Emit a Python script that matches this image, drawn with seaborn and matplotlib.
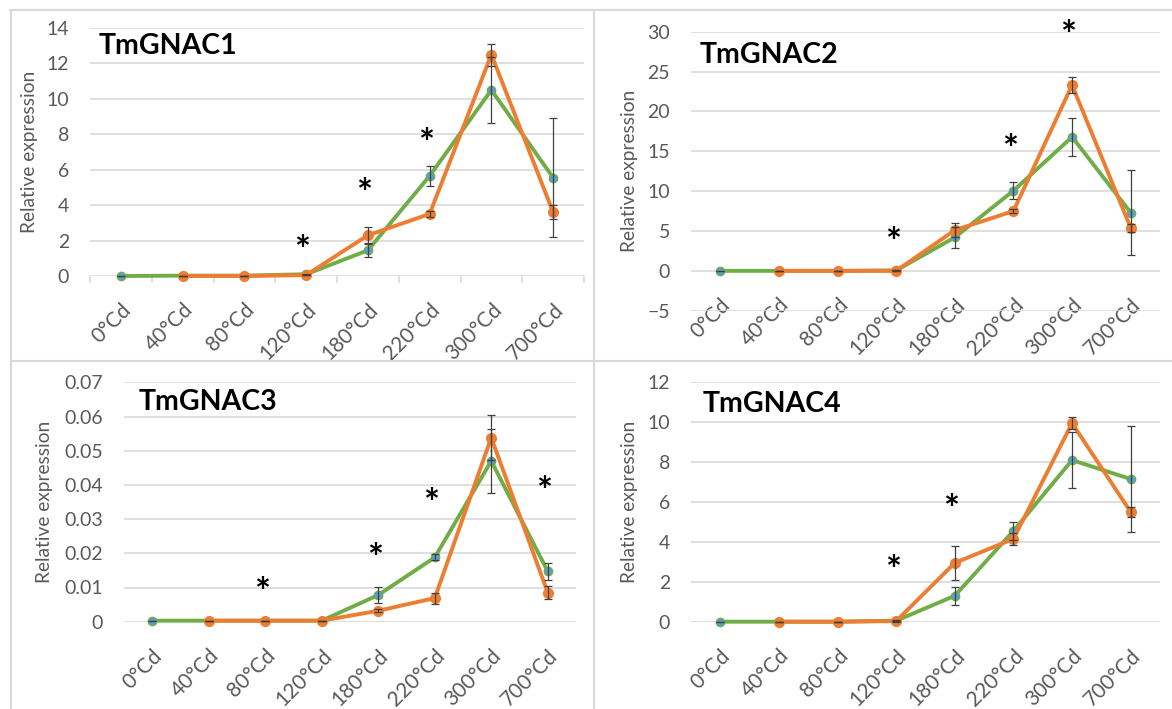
# Relative expression of TmGNAC1-4 across thermal time (4 panels)
import numpy as np
import pandas as pd
import matplotlib
matplotlib.use("Agg")
import matplotlib.pyplot as plt
import seaborn as sns
from matplotlib.ticker import MultipleLocator, FuncFormatter
from matplotlib.lines import Line2D
from matplotlib.transforms import ScaledTranslation

nan = np.nan

# ---------- DATA ----------
stages = ["0°Cd", "40°Cd", "80°Cd", "120°Cd", "180°Cd", "220°Cd", "300°Cd", "700°Cd"]

# TmGNAC1
g1_green = [0.0, 0.02, 0.02, 0.1, 1.45, 5.65, 10.5, 5.55]
g1_green_err = [0.0, 0.0, 0.0, 0.02, 0.4, 0.55, 1.85, 3.35]
g1_orange = [nan, 0.0, 0.0, 0.05, 2.3, 3.5, 12.5, 3.6]
g1_orange_err = [nan, 0.0, 0.0, 0.02, 0.48, 0.15, 0.62, 0.4]
g1_star_stage = ["120°Cd", "180°Cd", "220°Cd"]
g1_star_y = [1.65, 4.85, 7.7]

# TmGNAC2
g2_green = [0.0, 0.0, 0.0, 0.05, 4.2, 10.05, 16.8, 7.3]
g2_green_err = [0.0, 0.0, 0.0, 0.05, 1.3, 1.05, 2.4, 5.35]
g2_orange = [nan, 0.0, 0.0, 0.0, 5.1, 7.5, 23.3, 5.4]
g2_orange_err = [nan, 0.0, 0.0, 0.05, 0.85, 0.3, 1.05, 0.5]
g2_star_stage = ["120°Cd", "220°Cd", "300°Cd"]
g2_star_y = [4.0, 15.6, 30.0]

# TmGNAC3
g3_green = [0.0003, 0.0003, 0.0003, 0.0003, 0.0078, 0.0188, 0.047, 0.0147]
g3_green_err = [0.0, 0.0, 0.0, 0.0, 0.0023, 0.0009, 0.0093, 0.0024]
g3_orange = [nan, 0.0003, 0.0003, 0.0003, 0.0032, 0.0069, 0.0538, 0.0085]
g3_orange_err = [nan, 0.0, 0.0, 0.0, 0.0004, 0.0016, 0.0066, 0.0019]
g3_star_stage = ["80°Cd", "180°Cd", "220°Cd", "700°Cd"]
g3_star_y = [0.0095, 0.0195, 0.0355, 0.0392]

# TmGNAC4
g4_green = [0.0, 0.0, 0.0, 0.05, 1.3, 4.55, 8.1, 7.15]
g4_green_err = [0.0, 0.0, 0.0, 0.02, 0.45, 0.45, 1.42, 2.66]
g4_orange = [nan, 0.0, 0.0, 0.03, 2.95, 4.15, 9.95, 5.5]
g4_orange_err = [nan, 0.0, 0.0, 0.02, 0.85, 0.3, 0.3, 0.25]
g4_star_stage = ["120°Cd", "180°Cd"]
g4_star_y = [2.75, 5.8]

# ---------- STYLE ----------
sns.set_theme(style="white")
plt.rcParams["font.family"] = ["Lato", "DejaVu Sans"]

GREEN = "#70AD47"
ORANGE = "#ED7D31"
BLUE = "#5B9BD5"
TXT = "#595959"
GRID = "#D9D9D9"
ERR = "#404040"

W, H = 1172, 709
fig = plt.figure(figsize=(W / 100, H / 100), dpi=100)
fig.patch.set_facecolor("white")


def px_axes(left, top, right, bottom):
    return fig.add_axes([left / W, 1 - bottom / H, (right - left) / W, (bottom - top) / H])


def fmt(v, pos):
    s = f"{v:.2f}".rstrip("0").rstrip(".") if abs(v) > 1e-12 else "0"
    return s.replace("-", "\u2212")


panels = [
    # title, green, green err, orange, orange err, stars, ylim, step, box, title pos, ylabel x, boundary ticks
    ("TmGNAC1", g1_green, g1_green_err, g1_orange, g1_orange_err, g1_star_stage, g1_star_y,
     (0, 14), 2, (90, 28, 584, 276), (99, 46), 30, True),
    ("TmGNAC2", g2_green, g2_green_err, g2_orange, g2_orange_err, g2_star_stage, g2_star_y,
     (-5, 30), 5, (691, 31.7, 1160, 310.7), (700, 55), 630, False),
    ("TmGNAC3", g3_green, g3_green_err, g3_orange, g3_orange_err, g3_star_stage, g3_star_y,
     (0, 0.07), 0.01, (124, 382.3, 576, 621.7), (139, 402), 45, False),
    ("TmGNAC4", g4_green, g4_green_err, g4_orange, g4_orange_err, g4_star_stage, g4_star_y,
     (0, 12), 2, (691, 382.3, 1160, 621.7), (703, 404), 630, False),
]

x = np.arange(len(stages))

for (title, gv, ge, ov, oe, st_stage, st_y, ylim, step, box, tpos, ylx, bticks) in panels:
    ax = px_axes(*box)

    # green series (blue markers), then orange on top
    df_g = pd.DataFrame({"x": x, "y": gv})
    df_o = pd.DataFrame({"x": x, "y": ov}).dropna()
    sns.lineplot(data=df_g, x="x", y="y", ax=ax, color=GREEN, lw=2.8, marker="o",
                 markersize=6, markerfacecolor=BLUE, markeredgecolor=GREEN,
                 markeredgewidth=1.0, errorbar=None, zorder=3, clip_on=False)
    sns.lineplot(data=df_o, x="x", y="y", ax=ax, color=ORANGE, lw=2.8, marker="o",
                 markersize=7, markerfacecolor=ORANGE, markeredgecolor=ORANGE,
                 markeredgewidth=1.0, errorbar=None, zorder=4, clip_on=False)

    ax.errorbar(x, gv, yerr=ge, fmt="none", ecolor=ERR, elinewidth=0.9,
                capsize=3, capthick=0.9, zorder=5, clip_on=False)
    ax.errorbar(x, ov, yerr=oe, fmt="none", ecolor=ERR, elinewidth=0.9,
                capsize=3, capthick=0.9, zorder=5, clip_on=False)

    # significance stars
    for s, yv in zip(st_stage, st_y):
        ax.text(stages.index(s) - 0.06, yv, "*", ha="center", va="center",
                fontsize=27, fontweight="bold", color="black", clip_on=False,
                transform=ax.transData + ScaledTranslation(0, -0.05, fig.dpi_scale_trans))

    ax.set_xlim(-0.5, len(stages) - 0.5)
    ax.set_ylim(*ylim)
    ax.yaxis.set_major_locator(MultipleLocator(step))
    ax.yaxis.set_major_formatter(FuncFormatter(fmt))
    ax.grid(axis="y", color=GRID, lw=1.2)
    ax.grid(axis="x", visible=False)
    ax.set_axisbelow(True)
    for sp in ax.spines.values():
        sp.set_visible(False)
    ax.spines["bottom"].set_position(("data", 0))

    ax.set_xticks(x)
    ax.set_xticklabels(stages, rotation=45, ha="right", va="top", rotation_mode="anchor")
    for lab in ax.get_xticklabels():
        lab.set_transform(lab.get_transform() + ScaledTranslation(0.05, 0, fig.dpi_scale_trans))
    ax.tick_params(axis="x", which="major", length=0, pad=17, labelsize=15, labelcolor=TXT)
    ax.tick_params(axis="y", length=0, pad=15, labelsize=14, labelcolor=TXT)
    if bticks:
        ax.set_xticks(np.arange(-0.5, len(stages), 1), minor=True)
        ax.tick_params(axis="x", which="minor", length=5, width=1.2, color=GRID,
                       direction="out", bottom=True)

    ax.set_xlabel("")
    ax.set_ylabel("Relative expression", fontsize=13.8, color=TXT)
    ax.yaxis.label.set_verticalalignment("center")
    ax.yaxis.set_label_coords(ylx / W, 1 - (box[1] + box[3]) / 2 / H, transform=fig.transFigure)

    fig.text(tpos[0] / W, 1 - tpos[1] / H, title, fontsize=20.5, fontweight="bold",
             color="black", ha="left", va="center")

# panel frame lines
for xs, ys in [([10, W], [10, 10]), ([11, 11], [10, H]), ([594, 594], [10, H]), ([11, W], [360.5, 360.5])]:
    fig.add_artist(Line2D([v / W for v in xs], [1 - v / H for v in ys],
                          transform=fig.transFigure, color=GRID, lw=1.5))

fig.savefig("out.png", dpi=100)
